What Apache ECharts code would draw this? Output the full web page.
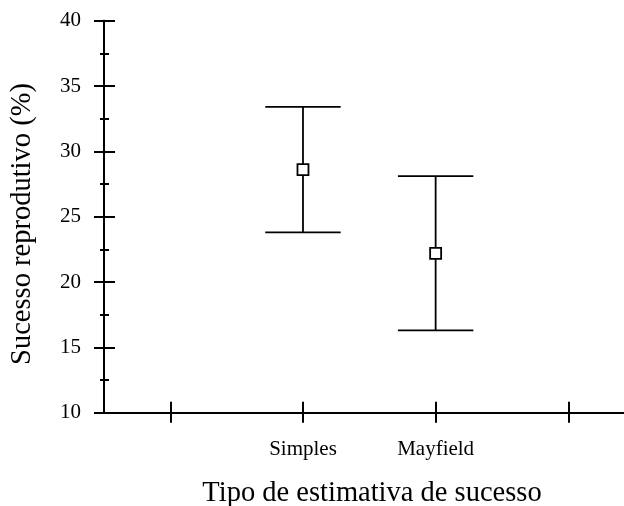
<!DOCTYPE html>
<html><head><meta charset="utf-8">
<script src="https://cdn.jsdelivr.net/npm/echarts@6/dist/echarts.min.js"></script>
<style>html,body{margin:0;padding:0;background:#fff}#c{width:624px;height:506px}</style>
</head><body><div id="c"></div>
<script>
// Data
var categories = ['Simples', 'Mayfield'];
var categoryPositions = [2, 3];
var xTickValues = [1, 2, 3, 4];
var means = [28.6, 22.2];
var lowerBounds = [23.8, 16.3];
var upperBounds = [33.4, 28.1];
var yTickLabels = [10, 15, 20, 25, 30, 35, 40];
var yTitle = 'Sucesso reprodutivo (%)';
var xTitle = 'Tipo de estimativa de sucesso';

var font = '"Liberation Serif", "Times New Roman", serif';
var chart = echarts.init(document.getElementById('c'), null, {renderer: 'canvas'});

var seriesData = categories.map(function (c, i) {
  return [categoryPositions[i], means[i], lowerBounds[i], upperBounds[i]];
});

function catLabel(v) {
  var i = categoryPositions.indexOf(Math.round(v));
  return i >= 0 ? categories[i] : '';
}

var LW = 2;
var baseX = {
  type: 'value', min: 0.5, max: 4.42, position: 'bottom',
  axisLine: {show: true, lineStyle: {color: '#000', width: LW}},
  splitLine: {show: false}
};
var baseY = {
  type: 'value', min: 10, max: 40, interval: 5, position: 'left',
  axisLine: {show: true, lineStyle: {color: '#000', width: LW}},
  splitLine: {show: false}
};

chart.setOption({
  animation: false,
  backgroundColor: '#fff',
  grid: {left: 104, right: 0, top: 20.7, bottom: 93.3, containLabel: false},
  xAxis: [
    Object.assign({}, baseX, {
      axisTick: {show: true, inside: false, length: 10, lineStyle: {color: '#000', width: LW}, customValues: xTickValues},
      axisLabel: {show: true, margin: 26, color: '#000', fontFamily: font, fontSize: 21, customValues: categoryPositions, formatter: catLabel}
    }),
    Object.assign({}, baseX, {
      axisTick: {show: true, inside: true, length: 11, lineStyle: {color: '#000', width: LW}, customValues: xTickValues},
      axisLabel: {show: false}
    })
  ],
  yAxis: [
    Object.assign({}, baseY, {
      axisTick: {show: true, inside: false, length: 10, lineStyle: {color: '#000', width: LW}},
      minorTick: {show: true, splitNumber: 2, length: 4, lineStyle: {color: '#000', width: LW}},
      axisLabel: {show: true, margin: 23, color: '#000', fontFamily: font, fontSize: 21,
        formatter: function (v) { return yTickLabels.indexOf(v) >= 0 ? String(v) : ''; }}
    }),
    Object.assign({}, baseY, {
      axisTick: {show: true, inside: true, length: 11, lineStyle: {color: '#000', width: LW}},
      minorTick: {show: true, splitNumber: 2, length: 5, lineStyle: {color: '#000', width: LW}},
      axisLabel: {show: false}
    })
  ],
  graphic: [
    {type: 'text', x: 23, y: 224, rotation: Math.PI / 2,
      style: {text: yTitle, fontSize: 28.5, fontFamily: font, fill: '#000', align: 'center', verticalAlign: 'middle'}},
    {type: 'text', x: 372, y: 494,
      style: {text: xTitle, fontSize: 28.5, fontFamily: font, fill: '#000', align: 'center', verticalAlign: 'middle'}}
  ],
  series: [{
    type: 'custom',
    xAxisIndex: 0, yAxisIndex: 0,
    data: seriesData,
    encode: {x: 0, y: [1, 2, 3]},
    renderItem: function (params, api) {
      var x = api.value(0);
      var pm = api.coord([x, api.value(1)]);
      var pl = api.coord([x, api.value(2)]);
      var pu = api.coord([x, api.value(3)]);
      var hw = 37.7, s = 5.5;
      var ls = {stroke: '#000', lineWidth: 1.8};
      return {type: 'group', children: [
        {type: 'line', shape: {x1: pm[0], y1: pu[1], x2: pm[0], y2: pl[1]}, style: ls},
        {type: 'line', shape: {x1: pm[0] - hw, y1: pu[1], x2: pm[0] + hw, y2: pu[1]}, style: ls},
        {type: 'line', shape: {x1: pm[0] - hw, y1: pl[1], x2: pm[0] + hw, y2: pl[1]}, style: ls},
        {type: 'rect', shape: {x: pm[0] - s, y: pm[1] - s, width: 2 * s, height: 2 * s}, style: {fill: '#fff', stroke: '#000', lineWidth: 1.8}}
      ]};
    }
  }]
});
</script></body></html>
